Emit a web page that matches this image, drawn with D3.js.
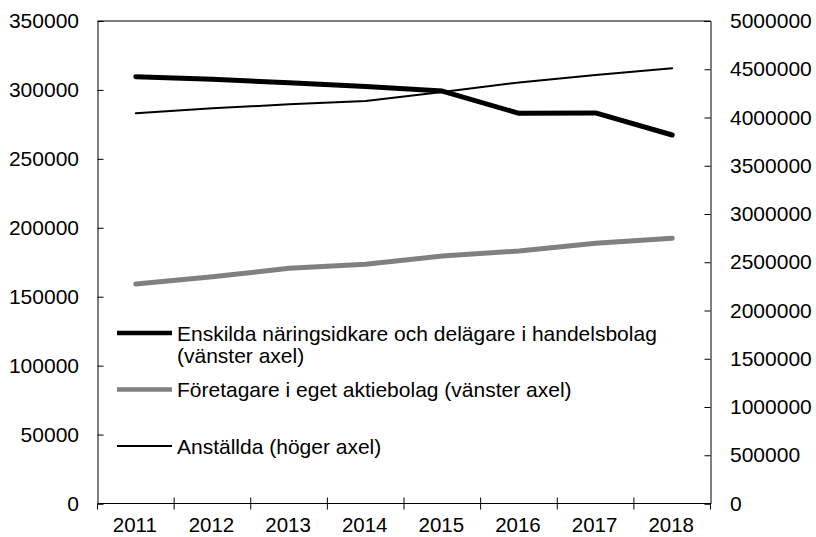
<!DOCTYPE html>
<html>
<head>
<meta charset="utf-8">
<script src="https://cdn.jsdelivr.net/npm/d3@7"></script>
<style>
  body { margin: 0; background: #fff; }
  text { font-family: "Liberation Sans", Arial, sans-serif; }
</style>
</head>
<body>
<div id="chart-area"></div>
<script>
// data
const years = ["2011", "2012", "2013", "2014", "2015", "2016", "2017", "2018"];
const enskilda = [309600, 307700, 305200, 302500, 299200, 283000, 283300, 267300];
const foretagare = [159200, 164500, 170600, 173500, 179500, 183200, 188700, 192400];
const anstallda = [4044000, 4095000, 4137000, 4171000, 4264000, 4363000, 4440000, 4510000];
const leftTicks = [0, 50000, 100000, 150000, 200000, 250000, 300000, 350000];
const rightTicks = [0, 500000, 1000000, 1500000, 2000000, 2500000, 3000000, 3500000, 4000000, 4500000, 5000000];

const W = 816, H = 537;
const margin = {left: 97.5, right: 105.5, top: 21, bottom: 33.5};
const width = W - margin.left - margin.right;
const height = H - margin.top - margin.bottom;
const fs = "21px";

let svg = d3.select("#chart-area")
  .append("svg")
  .attr("width", W)
  .attr("height", H)
  .append("g")
  .attr("transform", `translate(${margin.left}, ${margin.top})`);

let x = d3.scaleBand().domain(years).range([0, width]);
let xc = d => x(d) + x.bandwidth() / 2;

let yL = d3.scaleLinear().domain([0, 350000]).range([height, 0]);
let yR = d3.scaleLinear().domain([0, 5000000]).range([height, 0]);

// frame top
svg.append("line")
  .attr("x1", 0).attr("x2", width).attr("y1", 0).attr("y2", 0)
  .attr("stroke", "#000").attr("stroke-width", 1);

// left axis, ticks inward
let gl = svg.append("g")
  .call(d3.axisLeft(yL).tickValues(leftTicks).tickSize(-6).tickPadding(18.5).tickFormat(d => d));
gl.select(".domain").attr("stroke", "#000");
gl.selectAll("text").attr("font-size", fs).attr("fill", "#000");

// right axis, ticks inward
let gr = svg.append("g")
  .attr("transform", `translate(${width},0)`)
  .call(d3.axisRight(yR).tickValues(rightTicks).tickSize(-6).tickPadding(19.5).tickFormat(d => d));
gr.select(".domain").attr("stroke", "#000");
gr.selectAll("text").attr("font-size", fs).attr("fill", "#000");

// bottom axis, ticks at category boundaries, crossing the line
let gb = svg.append("g").attr("transform", `translate(0,${height})`);
gb.append("line").attr("x1", 0).attr("x2", width).attr("stroke", "#000");
let bounds = years.map(d => x(d)).concat([width]);
gb.selectAll(".bt").data(bounds).enter().append("line")
  .attr("x1", d => d).attr("x2", d => d)
  .attr("y1", (d, i) => (i === 0 || i === bounds.length - 1) ? 0 : -6)
  .attr("y2", 6)
  .attr("stroke", "#000");
gb.selectAll(".bl").data(years).enter().append("text")
  .attr("x", d => xc(d) - 1)
  .attr("y", 28.5)
  .attr("text-anchor", "middle")
  .attr("font-size", "20.5px")
  .text(d => d);

// lines
const lineL = d3.line().x((d, i) => xc(years[i])).y(d => yL(d));
const lineR = d3.line().x((d, i) => xc(years[i])).y(d => yR(d));

svg.append("path").datum(anstallda)
  .attr("d", lineR).attr("fill", "none")
  .attr("stroke", "#000").attr("stroke-width", 2).attr("stroke-linecap", "round");

svg.append("path").datum(foretagare)
  .attr("d", lineL).attr("fill", "none")
  .attr("stroke", "#808080").attr("stroke-width", 5).attr("stroke-linecap", "round");

svg.append("path").datum(enskilda)
  .attr("d", lineL).attr("fill", "none")
  .attr("stroke", "#000").attr("stroke-width", 5).attr("stroke-linecap", "round")
  .attr("stroke-linejoin", "round");

// legend
const legend = [
  {lines: ["Enskilda näringsidkare och delägare i handelsbolag", "(vänster axel)"], color: "#000", w: 4.5, y: 333},
  {lines: ["Företagare i eget aktiebolag (vänster axel)"], color: "#808080", w: 4.5, y: 389.5},
  {lines: ["Anställda (höger axel)"], color: "#000", w: 2, y: 446}
];
let lg = d3.select("svg").append("g");
legend.forEach(item => {
  lg.append("line")
    .attr("x1", 117).attr("x2", 172)
    .attr("y1", item.y).attr("y2", item.y)
    .attr("stroke", item.color).attr("stroke-width", item.w);
  item.lines.forEach((t, i) => {
    lg.append("text")
      .attr("x", 177)
      .attr("y", item.y + 7.5 + i * 22.5)
      .attr("font-size", fs)
      .text(t);
  });
});
</script>
</body>
</html>
